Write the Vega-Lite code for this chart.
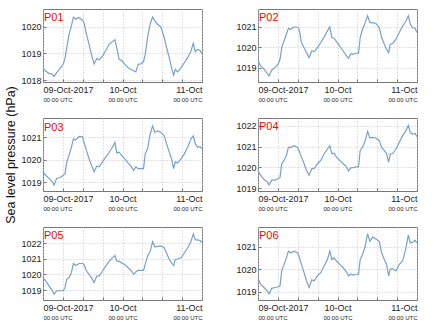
{
  "$schema": "https://vega.github.io/schema/vega-lite/v6.json",
  "padding": {"left": 4, "top": 8, "right": 0, "bottom": 0},
  "background": "white",
  "config": {
    "font": "Liberation Sans",
    "view": {"stroke": "#777", "strokeWidth": 1},
    "axis": {"grid": true, "gridColor": "#c4c4c4", "gridDash": [1, 2], "gridWidth": 1, "domain": false, "tickSize": -3, "tickColor": "#777", "labelFontSize": 9, "labelColor": "#222", "labelOverlap": false, "labelBound": false},
    "title": {"color": "#ff0000", "fontSize": 11, "fontWeight": "normal", "anchor": "start", "frame": "group", "offset": -14, "dx": 1}
  },
  "data": {"values": [
    {"t": "2017-10-09T00:00:00Z", "P01": 1018.46, "P02": 1019.34, "P03": 1019.47, "P04": 1019.84, "P05": 1019.80, "P06": 1019.59},
    {"t": "2017-10-09T00:48:00Z", "P01": 1018.34, "P02": 1019.10, "P03": 1019.32, "P04": 1019.63, "P05": 1019.59, "P06": 1019.34},
    {"t": "2017-10-09T01:49:00Z", "P01": 1018.25, "P02": 1018.94, "P03": 1019.18, "P04": 1019.42, "P05": 1019.27, "P06": 1019.19},
    {"t": "2017-10-09T02:49:00Z", "P01": 1018.22, "P02": 1018.73, "P03": 1019.03, "P04": 1019.31, "P05": 1018.96, "P06": 1019.04},
    {"t": "2017-10-09T03:20:00Z", "P01": 1018.14, "P02": 1018.61, "P03": 1018.88, "P04": 1019.16, "P05": 1018.75, "P06": 1018.90},
    {"t": "2017-10-09T04:08:00Z", "P01": 1018.28, "P02": 1018.89, "P03": 1019.18, "P04": 1019.39, "P05": 1018.96, "P06": 1019.15},
    {"t": "2017-10-09T05:09:00Z", "P01": 1018.43, "P02": 1019.02, "P03": 1019.22, "P04": 1019.39, "P05": 1018.96, "P06": 1019.19},
    {"t": "2017-10-09T06:09:00Z", "P01": 1018.61, "P02": 1019.21, "P03": 1019.32, "P04": 1019.47, "P05": 1018.96, "P06": 1019.22},
    {"t": "2017-10-09T06:39:00Z", "P01": 1018.81, "P02": 1019.42, "P03": 1019.39, "P04": 1019.52, "P05": 1019.17, "P06": 1019.26},
    {"t": "2017-10-09T07:10:00Z", "P01": 1019.21, "P02": 1019.98, "P03": 1019.91, "P04": 1020.18, "P05": 1019.69, "P06": 1019.93},
    {"t": "2017-10-09T07:52:00Z", "P01": 1019.71, "P02": 1020.31, "P03": 1020.20, "P04": 1020.34, "P05": 1019.80, "P06": 1020.22},
    {"t": "2017-10-09T08:34:00Z", "P01": 1020.03, "P02": 1020.63, "P03": 1020.56, "P04": 1020.58, "P05": 1020.11, "P06": 1020.51},
    {"t": "2017-10-09T09:11:00Z", "P01": 1020.36, "P02": 1020.92, "P03": 1020.93, "P04": 1020.97, "P05": 1020.70, "P06": 1020.81},
    {"t": "2017-10-09T09:53:00Z", "P01": 1020.28, "P02": 1020.87, "P03": 1020.88, "P04": 1020.97, "P05": 1020.57, "P06": 1020.74},
    {"t": "2017-10-09T10:53:00Z", "P01": 1020.34, "P02": 1020.98, "P03": 1021.04, "P04": 1021.05, "P05": 1020.70, "P06": 1020.81},
    {"t": "2017-10-09T11:54:00Z", "P01": 1020.24, "P02": 1020.98, "P03": 1021.03, "P04": 1020.97, "P05": 1020.70, "P06": 1020.74},
    {"t": "2017-10-09T12:24:00Z", "P01": 1020.15, "P02": 1020.87, "P03": 1020.78, "P04": 1020.82, "P05": 1020.64, "P06": 1020.59},
    {"t": "2017-10-09T13:07:00Z", "P01": 1019.71, "P02": 1020.23, "P03": 1020.42, "P04": 1020.50, "P05": 1020.22, "P06": 1020.22},
    {"t": "2017-10-09T13:55:00Z", "P01": 1019.34, "P02": 1019.98, "P03": 1020.05, "P04": 1020.18, "P05": 1020.01, "P06": 1019.85},
    {"t": "2017-10-09T14:37:00Z", "P01": 1018.96, "P02": 1019.74, "P03": 1019.76, "P04": 1019.87, "P05": 1019.80, "P06": 1019.49},
    {"t": "2017-10-09T15:26:00Z", "P01": 1018.61, "P02": 1019.50, "P03": 1019.47, "P04": 1019.63, "P05": 1019.48, "P06": 1019.19},
    {"t": "2017-10-09T16:14:00Z", "P01": 1018.81, "P02": 1019.82, "P03": 1019.72, "P04": 1019.95, "P05": 1019.90, "P06": 1019.53},
    {"t": "2017-10-09T16:56:00Z", "P01": 1018.76, "P02": 1019.79, "P03": 1019.69, "P04": 1019.95, "P05": 1019.90, "P06": 1019.49},
    {"t": "2017-10-09T17:57:00Z", "P01": 1018.90, "P02": 1019.98, "P03": 1019.91, "P04": 1020.18, "P05": 1020.22, "P06": 1019.71},
    {"t": "2017-10-09T18:57:00Z", "P01": 1019.11, "P02": 1020.23, "P03": 1020.12, "P04": 1020.34, "P05": 1020.53, "P06": 1019.85},
    {"t": "2017-10-09T19:58:00Z", "P01": 1019.34, "P02": 1020.50, "P03": 1020.34, "P04": 1020.66, "P05": 1020.85, "P06": 1020.15},
    {"t": "2017-10-09T20:58:00Z", "P01": 1019.44, "P02": 1020.79, "P03": 1020.56, "P04": 1020.89, "P05": 1021.06, "P06": 1020.44},
    {"t": "2017-10-09T21:41:00Z", "P01": 1019.51, "P02": 1020.98, "P03": 1020.78, "P04": 1021.05, "P05": 1021.20, "P06": 1020.81},
    {"t": "2017-10-09T22:17:00Z", "P01": 1019.21, "P02": 1020.47, "P03": 1020.31, "P04": 1020.66, "P05": 1020.85, "P06": 1020.44},
    {"t": "2017-10-09T22:59:00Z", "P01": 1018.78, "P02": 1020.44, "P03": 1020.34, "P04": 1020.69, "P05": 1020.85, "P06": 1020.51},
    {"t": "2017-10-09T23:42:00Z", "P01": 1018.74, "P02": 1020.27, "P03": 1020.20, "P04": 1020.50, "P05": 1020.74, "P06": 1020.37},
    {"t": "2017-10-10T00:42:00Z", "P01": 1018.59, "P02": 1020.06, "P03": 1020.05, "P04": 1020.34, "P05": 1020.64, "P06": 1020.22},
    {"t": "2017-10-10T01:43:00Z", "P01": 1018.46, "P02": 1019.82, "P03": 1019.86, "P04": 1020.18, "P05": 1020.43, "P06": 1020.07},
    {"t": "2017-10-10T02:43:00Z", "P01": 1018.39, "P02": 1019.58, "P03": 1019.69, "P04": 1020.03, "P05": 1020.22, "P06": 1019.88},
    {"t": "2017-10-10T03:20:00Z", "P01": 1018.35, "P02": 1019.47, "P03": 1019.54, "P04": 1019.84, "P05": 1020.01, "P06": 1019.71},
    {"t": "2017-10-10T04:02:00Z", "P01": 1018.31, "P02": 1019.69, "P03": 1019.69, "P04": 1019.98, "P05": 1020.16, "P06": 1019.78},
    {"t": "2017-10-10T04:44:00Z", "P01": 1018.59, "P02": 1019.66, "P03": 1019.61, "P04": 1019.99, "P05": 1020.26, "P06": 1019.74},
    {"t": "2017-10-10T05:33:00Z", "P01": 1018.61, "P02": 1019.71, "P03": 1019.61, "P04": 1020.03, "P05": 1020.26, "P06": 1019.78},
    {"t": "2017-10-10T06:21:00Z", "P01": 1018.69, "P02": 1019.71, "P03": 1019.61, "P04": 1020.03, "P05": 1020.26, "P06": 1019.78},
    {"t": "2017-10-10T06:51:00Z", "P01": 1018.96, "P02": 1020.47, "P03": 1020.27, "P04": 1020.82, "P05": 1020.64, "P06": 1020.44},
    {"t": "2017-10-10T07:34:00Z", "P01": 1019.59, "P02": 1020.87, "P03": 1020.49, "P04": 1020.97, "P05": 1021.16, "P06": 1020.66},
    {"t": "2017-10-10T08:22:00Z", "P01": 1020.11, "P02": 1021.19, "P03": 1021.15, "P04": 1021.29, "P05": 1021.48, "P06": 1021.03},
    {"t": "2017-10-10T09:05:00Z", "P01": 1020.36, "P02": 1021.52, "P03": 1021.51, "P04": 1021.73, "P05": 1022.10, "P06": 1021.59},
    {"t": "2017-10-10T09:47:00Z", "P01": 1020.21, "P02": 1021.19, "P03": 1021.22, "P04": 1021.42, "P05": 1021.75, "P06": 1021.25},
    {"t": "2017-10-10T10:35:00Z", "P01": 1020.09, "P02": 1021.19, "P03": 1021.29, "P04": 1021.45, "P05": 1021.79, "P06": 1021.44},
    {"t": "2017-10-10T11:36:00Z", "P01": 1019.99, "P02": 1021.15, "P03": 1021.22, "P04": 1021.42, "P05": 1021.83, "P06": 1021.35},
    {"t": "2017-10-10T12:36:00Z", "P01": 1019.59, "P02": 1020.95, "P03": 1021.07, "P04": 1021.29, "P05": 1021.69, "P06": 1021.25},
    {"t": "2017-10-10T13:19:00Z", "P01": 1019.21, "P02": 1020.47, "P03": 1020.71, "P04": 1020.97, "P05": 1021.37, "P06": 1020.74},
    {"t": "2017-10-10T14:07:00Z", "P01": 1018.84, "P02": 1020.15, "P03": 1020.34, "P04": 1020.82, "P05": 1020.95, "P06": 1020.44},
    {"t": "2017-10-10T14:49:00Z", "P01": 1018.46, "P02": 1019.90, "P03": 1020.05, "P04": 1020.66, "P05": 1020.74, "P06": 1020.22},
    {"t": "2017-10-10T15:26:00Z", "P01": 1018.19, "P02": 1019.74, "P03": 1019.61, "P04": 1020.26, "P05": 1020.57, "P06": 1019.71},
    {"t": "2017-10-10T15:56:00Z", "P01": 1018.40, "P02": 1020.15, "P03": 1019.91, "P04": 1020.66, "P05": 1020.95, "P06": 1020.00},
    {"t": "2017-10-10T16:38:00Z", "P01": 1018.31, "P02": 1020.18, "P03": 1019.86, "P04": 1020.66, "P05": 1020.99, "P06": 1020.03},
    {"t": "2017-10-10T17:39:00Z", "P01": 1018.46, "P02": 1020.39, "P03": 1020.05, "P04": 1020.89, "P05": 1021.06, "P06": 1019.93},
    {"t": "2017-10-10T18:39:00Z", "P01": 1018.65, "P02": 1020.71, "P03": 1020.27, "P04": 1021.21, "P05": 1021.37, "P06": 1020.22},
    {"t": "2017-10-10T19:40:00Z", "P01": 1018.84, "P02": 1021.03, "P03": 1020.56, "P04": 1021.53, "P05": 1021.69, "P06": 1020.37},
    {"t": "2017-10-10T20:40:00Z", "P01": 1019.09, "P02": 1021.27, "P03": 1020.93, "P04": 1021.76, "P05": 1022.10, "P06": 1020.96},
    {"t": "2017-10-10T21:23:00Z", "P01": 1019.38, "P02": 1021.52, "P03": 1021.07, "P04": 1022.03, "P05": 1022.59, "P06": 1021.53},
    {"t": "2017-10-10T21:59:00Z", "P01": 1019.06, "P02": 1021.11, "P03": 1020.71, "P04": 1021.68, "P05": 1022.21, "P06": 1021.18},
    {"t": "2017-10-10T22:41:00Z", "P01": 1019.15, "P02": 1020.95, "P03": 1020.56, "P04": 1021.61, "P05": 1022.21, "P06": 1021.21},
    {"t": "2017-10-10T23:24:00Z", "P01": 1019.11, "P02": 1020.92, "P03": 1020.59, "P04": 1021.64, "P05": 1022.17, "P06": 1021.29},
    {"t": "2017-10-11T00:00:00Z", "P01": 1018.99, "P02": 1020.71, "P03": 1020.49, "P04": 1021.48, "P05": 1022.04, "P06": 1021.18}
  ]},
  "columns": 2,
  "spacing": {"row": 36, "column": 56},
  "bounds": "flush",
  "concat": [
    {
      "width": 159, "height": 73,
      "title": "P01",
      "layer": [
        {"mark": {"type": "line", "color": "#78a1c9", "strokeWidth": 1.2},
         "encoding": {
           "x": {"field": "t", "type": "temporal", "title": null, "scale": {"type": "utc", "domain": [{"year": 2017, "month": 10, "date": 9, "utc": true}, {"year": 2017, "month": 10, "date": 11, "utc": true}]},
                 "axis": {"orient": "bottom", "labelPadding": 6, "values": [{"year": 2017, "month": 10, "date": 9, "hours": 0, "utc": true}, {"year": 2017, "month": 10, "date": 9, "hours": 6, "utc": true}, {"year": 2017, "month": 10, "date": 9, "hours": 12, "utc": true}, {"year": 2017, "month": 10, "date": 9, "hours": 18, "utc": true}, {"year": 2017, "month": 10, "date": 10, "hours": 0, "utc": true}, {"year": 2017, "month": 10, "date": 10, "hours": 6, "utc": true}, {"year": 2017, "month": 10, "date": 10, "hours": 12, "utc": true}, {"year": 2017, "month": 10, "date": 10, "hours": 18, "utc": true}, {"year": 2017, "month": 10, "date": 11, "hours": 0, "utc": true}],
                          "labelExpr": "utchours(datum.value) != 0 ? '' : (utcdate(datum.value) == 9 ? utcFormat(datum.value, '%d-%b-%Y') : utcFormat(datum.value, '%d-%b'))"}},
           "y": {"field": "P01", "type": "quantitative", "title": null, "scale": {"domain": [1017.93, 1020.66], "nice": false, "zero": false}, "axis": {"values": [1018, 1019, 1020], "format": "d", "labelPadding": 5}}
         }},
        {"mark": {"type": "point", "opacity": 0},
         "encoding": {
           "x": {"field": "t", "type": "temporal", "title": null,
                 "axis": {"orient": "bottom", "grid": false, "ticks": false, "labelFontSize": 6, "labelPadding": 14, "values": [{"year": 2017, "month": 10, "date": 9, "utc": true}, {"year": 2017, "month": 10, "date": 10, "utc": true}, {"year": 2017, "month": 10, "date": 11, "utc": true}], "labelExpr": "'00:00 UTC'"}}
         }}
      ],
      "resolve": {"axis": {"x": "independent"}}
    },
    {
      "width": 159, "height": 73,
      "title": "P02",
      "layer": [
        {"mark": {"type": "line", "color": "#78a1c9", "strokeWidth": 1.2},
         "encoding": {
           "x": {"field": "t", "type": "temporal", "title": null, "scale": {"type": "utc", "domain": [{"year": 2017, "month": 10, "date": 9, "utc": true}, {"year": 2017, "month": 10, "date": 11, "utc": true}]},
                 "axis": {"orient": "bottom", "labelPadding": 6, "values": [{"year": 2017, "month": 10, "date": 9, "hours": 0, "utc": true}, {"year": 2017, "month": 10, "date": 9, "hours": 6, "utc": true}, {"year": 2017, "month": 10, "date": 9, "hours": 12, "utc": true}, {"year": 2017, "month": 10, "date": 9, "hours": 18, "utc": true}, {"year": 2017, "month": 10, "date": 10, "hours": 0, "utc": true}, {"year": 2017, "month": 10, "date": 10, "hours": 6, "utc": true}, {"year": 2017, "month": 10, "date": 10, "hours": 12, "utc": true}, {"year": 2017, "month": 10, "date": 10, "hours": 18, "utc": true}, {"year": 2017, "month": 10, "date": 11, "hours": 0, "utc": true}],
                          "labelExpr": "utchours(datum.value) != 0 ? '' : (utcdate(datum.value) == 9 ? utcFormat(datum.value, '%d-%b-%Y') : utcFormat(datum.value, '%d-%b'))"}},
           "y": {"field": "P02", "type": "quantitative", "title": null, "scale": {"domain": [1018.32, 1021.85], "nice": false, "zero": false}, "axis": {"values": [1019, 1020, 1021], "format": "d", "labelPadding": 5}}
         }},
        {"mark": {"type": "point", "opacity": 0},
         "encoding": {
           "x": {"field": "t", "type": "temporal", "title": null,
                 "axis": {"orient": "bottom", "grid": false, "ticks": false, "labelFontSize": 6, "labelPadding": 14, "values": [{"year": 2017, "month": 10, "date": 9, "utc": true}, {"year": 2017, "month": 10, "date": 10, "utc": true}, {"year": 2017, "month": 10, "date": 11, "utc": true}], "labelExpr": "'00:00 UTC'"}}
         }}
      ],
      "resolve": {"axis": {"x": "independent"}}
    },
    {
      "width": 159, "height": 73,
      "title": {"text": "P03", "offset": -47},
      "layer": [
        {"mark": {"type": "line", "color": "#78a1c9", "strokeWidth": 1.2},
         "encoding": {
           "x": {"field": "t", "type": "temporal", "title": null, "scale": {"type": "utc", "domain": [{"year": 2017, "month": 10, "date": 9, "utc": true}, {"year": 2017, "month": 10, "date": 11, "utc": true}]},
                 "axis": {"orient": "bottom", "labelPadding": 6, "values": [{"year": 2017, "month": 10, "date": 9, "hours": 0, "utc": true}, {"year": 2017, "month": 10, "date": 9, "hours": 6, "utc": true}, {"year": 2017, "month": 10, "date": 9, "hours": 12, "utc": true}, {"year": 2017, "month": 10, "date": 9, "hours": 18, "utc": true}, {"year": 2017, "month": 10, "date": 10, "hours": 0, "utc": true}, {"year": 2017, "month": 10, "date": 10, "hours": 6, "utc": true}, {"year": 2017, "month": 10, "date": 10, "hours": 12, "utc": true}, {"year": 2017, "month": 10, "date": 10, "hours": 18, "utc": true}, {"year": 2017, "month": 10, "date": 11, "hours": 0, "utc": true}],
                          "labelExpr": "utchours(datum.value) != 0 ? '' : (utcdate(datum.value) == 9 ? utcFormat(datum.value, '%d-%b-%Y') : utcFormat(datum.value, '%d-%b'))"}},
           "y": {"field": "P03", "type": "quantitative", "title": "Sea level pressure (hPa)", "scale": {"domain": [1018.62, 1021.86], "nice": false, "zero": false}, "axis": {"values": [1019, 1020, 1021], "format": "d", "labelPadding": 5, "titleFontSize": 12.5, "titleFontWeight": "normal", "titleColor": "#111", "titlePadding": 3}}
         }},
        {"mark": {"type": "point", "opacity": 0},
         "encoding": {
           "x": {"field": "t", "type": "temporal", "title": null,
                 "axis": {"orient": "bottom", "grid": false, "ticks": false, "labelFontSize": 6, "labelPadding": 14, "values": [{"year": 2017, "month": 10, "date": 9, "utc": true}, {"year": 2017, "month": 10, "date": 10, "utc": true}, {"year": 2017, "month": 10, "date": 11, "utc": true}], "labelExpr": "'00:00 UTC'"}}
         }}
      ],
      "resolve": {"axis": {"x": "independent"}}
    },
    {
      "width": 159, "height": 73,
      "title": "P04",
      "layer": [
        {"mark": {"type": "line", "color": "#78a1c9", "strokeWidth": 1.2},
         "encoding": {
           "x": {"field": "t", "type": "temporal", "title": null, "scale": {"type": "utc", "domain": [{"year": 2017, "month": 10, "date": 9, "utc": true}, {"year": 2017, "month": 10, "date": 11, "utc": true}]},
                 "axis": {"orient": "bottom", "labelPadding": 6, "values": [{"year": 2017, "month": 10, "date": 9, "hours": 0, "utc": true}, {"year": 2017, "month": 10, "date": 9, "hours": 6, "utc": true}, {"year": 2017, "month": 10, "date": 9, "hours": 12, "utc": true}, {"year": 2017, "month": 10, "date": 9, "hours": 18, "utc": true}, {"year": 2017, "month": 10, "date": 10, "hours": 0, "utc": true}, {"year": 2017, "month": 10, "date": 10, "hours": 6, "utc": true}, {"year": 2017, "month": 10, "date": 10, "hours": 12, "utc": true}, {"year": 2017, "month": 10, "date": 10, "hours": 18, "utc": true}, {"year": 2017, "month": 10, "date": 11, "hours": 0, "utc": true}],
                          "labelExpr": "utchours(datum.value) != 0 ? '' : (utcdate(datum.value) == 9 ? utcFormat(datum.value, '%d-%b-%Y') : utcFormat(datum.value, '%d-%b'))"}},
           "y": {"field": "P04", "type": "quantitative", "title": null, "scale": {"domain": [1018.87, 1022.38], "nice": false, "zero": false}, "axis": {"values": [1019, 1020, 1021, 1022], "format": "d", "labelPadding": 5}}
         }},
        {"mark": {"type": "point", "opacity": 0},
         "encoding": {
           "x": {"field": "t", "type": "temporal", "title": null,
                 "axis": {"orient": "bottom", "grid": false, "ticks": false, "labelFontSize": 6, "labelPadding": 14, "values": [{"year": 2017, "month": 10, "date": 9, "utc": true}, {"year": 2017, "month": 10, "date": 10, "utc": true}, {"year": 2017, "month": 10, "date": 11, "utc": true}], "labelExpr": "'00:00 UTC'"}}
         }}
      ],
      "resolve": {"axis": {"x": "independent"}}
    },
    {
      "width": 159, "height": 73,
      "title": "P05",
      "layer": [
        {"mark": {"type": "line", "color": "#78a1c9", "strokeWidth": 1.2},
         "encoding": {
           "x": {"field": "t", "type": "temporal", "title": null, "scale": {"type": "utc", "domain": [{"year": 2017, "month": 10, "date": 9, "utc": true}, {"year": 2017, "month": 10, "date": 11, "utc": true}]},
                 "axis": {"orient": "bottom", "labelPadding": 6, "values": [{"year": 2017, "month": 10, "date": 9, "hours": 0, "utc": true}, {"year": 2017, "month": 10, "date": 9, "hours": 6, "utc": true}, {"year": 2017, "month": 10, "date": 9, "hours": 12, "utc": true}, {"year": 2017, "month": 10, "date": 9, "hours": 18, "utc": true}, {"year": 2017, "month": 10, "date": 10, "hours": 0, "utc": true}, {"year": 2017, "month": 10, "date": 10, "hours": 6, "utc": true}, {"year": 2017, "month": 10, "date": 10, "hours": 12, "utc": true}, {"year": 2017, "month": 10, "date": 10, "hours": 18, "utc": true}, {"year": 2017, "month": 10, "date": 11, "hours": 0, "utc": true}],
                          "labelExpr": "utchours(datum.value) != 0 ? '' : (utcdate(datum.value) == 9 ? utcFormat(datum.value, '%d-%b-%Y') : utcFormat(datum.value, '%d-%b'))"}},
           "y": {"field": "P05", "type": "quantitative", "title": null, "scale": {"domain": [1018.37, 1023.03], "nice": false, "zero": false}, "axis": {"values": [1019, 1020, 1021, 1022], "format": "d", "labelPadding": 5}}
         }},
        {"mark": {"type": "point", "opacity": 0},
         "encoding": {
           "x": {"field": "t", "type": "temporal", "title": null,
                 "axis": {"orient": "bottom", "grid": false, "ticks": false, "labelFontSize": 6, "labelPadding": 14, "values": [{"year": 2017, "month": 10, "date": 9, "utc": true}, {"year": 2017, "month": 10, "date": 10, "utc": true}, {"year": 2017, "month": 10, "date": 11, "utc": true}], "labelExpr": "'00:00 UTC'"}}
         }}
      ],
      "resolve": {"axis": {"x": "independent"}}
    },
    {
      "width": 159, "height": 73,
      "title": "P06",
      "layer": [
        {"mark": {"type": "line", "color": "#78a1c9", "strokeWidth": 1.2},
         "encoding": {
           "x": {"field": "t", "type": "temporal", "title": null, "scale": {"type": "utc", "domain": [{"year": 2017, "month": 10, "date": 9, "utc": true}, {"year": 2017, "month": 10, "date": 11, "utc": true}]},
                 "axis": {"orient": "bottom", "labelPadding": 6, "values": [{"year": 2017, "month": 10, "date": 9, "hours": 0, "utc": true}, {"year": 2017, "month": 10, "date": 9, "hours": 6, "utc": true}, {"year": 2017, "month": 10, "date": 9, "hours": 12, "utc": true}, {"year": 2017, "month": 10, "date": 9, "hours": 18, "utc": true}, {"year": 2017, "month": 10, "date": 10, "hours": 0, "utc": true}, {"year": 2017, "month": 10, "date": 10, "hours": 6, "utc": true}, {"year": 2017, "month": 10, "date": 10, "hours": 12, "utc": true}, {"year": 2017, "month": 10, "date": 10, "hours": 18, "utc": true}, {"year": 2017, "month": 10, "date": 11, "hours": 0, "utc": true}],
                          "labelExpr": "utchours(datum.value) != 0 ? '' : (utcdate(datum.value) == 9 ? utcFormat(datum.value, '%d-%b-%Y') : utcFormat(datum.value, '%d-%b'))"}},
           "y": {"field": "P06", "type": "quantitative", "title": null, "scale": {"domain": [1018.63, 1021.89], "nice": false, "zero": false}, "axis": {"values": [1019, 1020, 1021], "format": "d", "labelPadding": 5}}
         }},
        {"mark": {"type": "point", "opacity": 0},
         "encoding": {
           "x": {"field": "t", "type": "temporal", "title": null,
                 "axis": {"orient": "bottom", "grid": false, "ticks": false, "labelFontSize": 6, "labelPadding": 14, "values": [{"year": 2017, "month": 10, "date": 9, "utc": true}, {"year": 2017, "month": 10, "date": 10, "utc": true}, {"year": 2017, "month": 10, "date": 11, "utc": true}], "labelExpr": "'00:00 UTC'"}}
         }}
      ],
      "resolve": {"axis": {"x": "independent"}}
    }
  ]
}
